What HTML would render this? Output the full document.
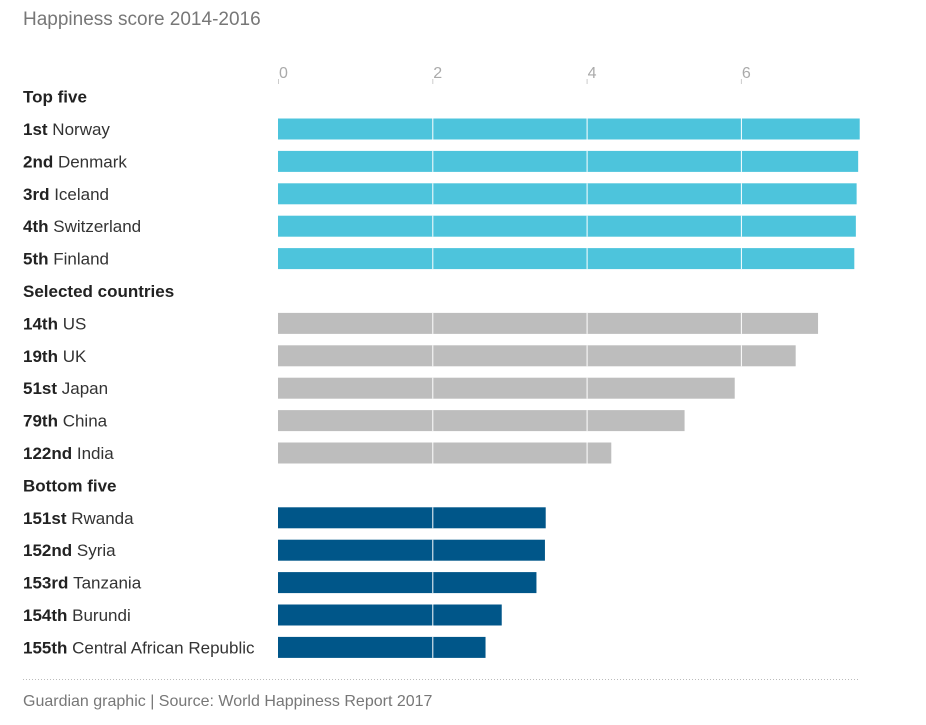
<!DOCTYPE html>
<html><head><meta charset="utf-8"><style>
body{margin:0;background:#fff;width:926px;height:720px;overflow:hidden;font-family:"Liberation Sans",sans-serif}
svg text{font-family:"Liberation Sans",sans-serif}
</style></head><body>
<svg id="chart" width="926" height="720" xmlns="http://www.w3.org/2000/svg">
<text x="23" y="25" font-size="19" fill="#777">Happiness score 2014-2016</text>
<g id="axis"></g><g id="rows"></g>
<line x1="23" x2="860" y1="679.5" y2="679.5" stroke="#bbb" stroke-dasharray="1,2"/>
<text x="23" y="706" font-size="16" fill="#777">Guardian graphic | Source: World Happiness Report 2017</text>
</svg>
<script>
const ranks=["1st","2nd","3rd","4th","5th","14th","19th","51st","79th","122nd","151st","152nd","153rd","154th","155th"];
const countries=["Norway","Denmark","Iceland","Switzerland","Finland","US","UK","Japan","China","India","Rwanda","Syria","Tanzania","Burundi","Central African Republic"];
const scores=[7.54,7.52,7.50,7.49,7.47,7.00,6.71,5.92,5.27,4.32,3.47,3.46,3.35,2.90,2.69];
const groups=["top","top","top","top","top","sel","sel","sel","sel","sel","bot","bot","bot","bot","bot"];
const groupTitles=["Top five","Selected countries","Bottom five"];
const ticks=[0,2,4,6];
const NS="http://www.w3.org/2000/svg";
const x=v=>278+v*77.15;
const colors={top:"#4dc4dc",sel:"#bdbdbd",bot:"#005689"};
function mk(tag,attrs,parent,txt){const e=document.createElementNS(NS,tag);for(const k in attrs)e.setAttribute(k,attrs[k]);if(txt!=null)e.textContent=txt;parent.appendChild(e);return e;}
const axis=document.getElementById('axis'),rows=document.getElementById('rows');
ticks.forEach(t=>{
 const l=mk('line',{x1:x(t)+0.5,x2:x(t)+0.5,y1:79,y2:84,stroke:"#ccc"},axis);
 
 
 const tx=mk('text',{x:x(t)+1,y:78,"font-size":16,fill:"#aaa"},axis,String(t));
 
 
});
const rowY=i=>{const g=Math.floor(i/5);return 129+g*32.4*6+(i%5)*32.4;};
groupTitles.forEach((g,gi)=>{
 const t=mk('text',{x:23,y:rowY(gi*5)-32.4+6,"font-size":17,"font-weight":"bold",fill:"#222"},rows,g);
 
 
});
scores.forEach((v,i)=>{
 const cy=rowY(i);
 const r=mk('rect',{x:x(0),y:cy-10.5,width:x(v)-x(0),height:21,fill:colors[groups[i]]},rows);
 
 
 ticks.slice(1).forEach(t=>{if(x(t)<x(v)){const g=mk('line',{x1:x(t)+0.5,x2:x(t)+0.5,y1:cy-10.5,y2:cy+10.5,stroke:"#fff","stroke-width":1},rows);
  
  }});
 const t=mk('text',{x:23,y:cy+6,"font-size":17,fill:"#333"},rows);
 
 
 mk('tspan',{"font-weight":"bold",fill:"#222"},t,ranks[i]+" ");
 mk('tspan',{},t,countries[i]);
});
</script>
</body></html>
